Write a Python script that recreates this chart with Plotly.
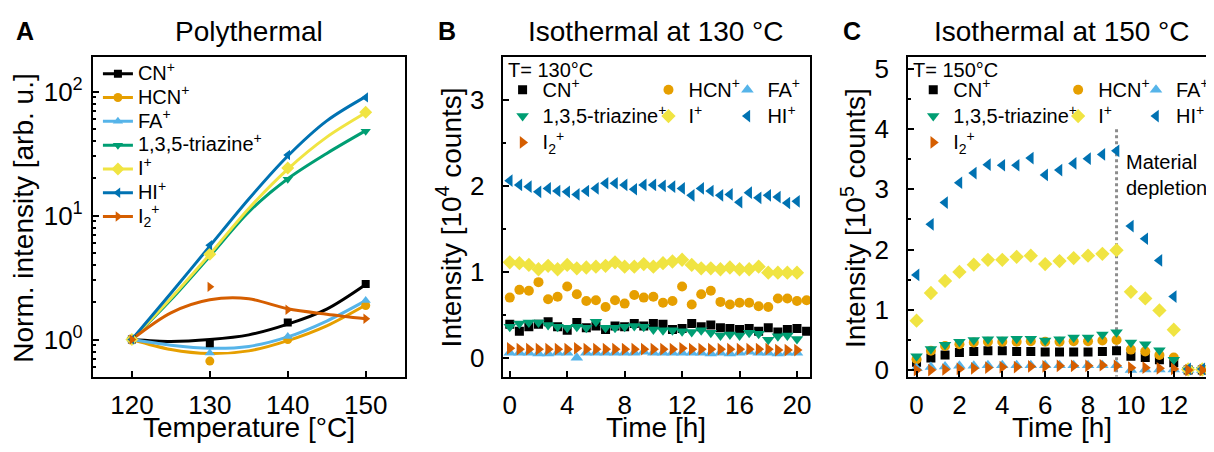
import plotly.graph_objects as go

# page offset of the plot inside the browser window (default body margin)
OFF = 8
W, H = 1214 - OFF, 452 - OFF
FONT = "Liberation Sans, Arial, Helvetica, sans-serif"

# ---------------- data ----------------
LABELS = ["CN<sup>+</sup>", "HCN<sup>+</sup>", "FA<sup>+</sup>", "1,3,5-triazine<sup>+</sup>",
          "I<sup>+</sup>", "HI<sup>+</sup>", "I<sub>2</sub><sup>+</sup>"]

# Panel A: polythermal, normalized intensity (markers)
TEMP_C = [120, 130, 140, 150]
A_CN = [1.0, 0.935, 1.37, 2.8]
A_HCN = [1.0, 0.67, 1.0, 1.88]
A_FA = [1.0, 0.78, 1.06, 2.06]
A_TRZ = [1.0, 4.8, 19.6, 47.8]
A_I = [1.0, 4.87, 24.2, 68.0]
A_HI = [1.0, 5.77, 30.8, 89.7]
A_I2 = [1.0, 2.66, 1.74, 1.47]

# Panel A: smoothed guide curves
FIT_TEMP = [120, 125, 130, 135, 140, 145, 150]
FIT_CN = [1.0, 0.965, 1.0, 1.09, 1.33, 1.76, 2.78]
FIT_HCN = [1.0, 0.83, 0.77, 0.81, 0.98, 1.29, 1.9]
FIT_FA = [1.0, 0.90, 0.85, 0.88, 1.05, 1.41, 2.06]
FIT_TRZ = [1.0, 2.09, 4.7, 10.7, 19.8, 31.7, 48.4]
FIT_I = [1.0, 2.15, 4.87, 11.4, 23.7, 42.9, 67.4]
FIT_HI = [1.0, 2.36, 5.67, 13.6, 30.2, 58.0, 91.0]
FIT_I2 = [1.0, 1.64, 2.09, 2.13, 1.77, 1.60, 1.47]

# Panel B: isothermal at 130 C, intensity in 1e4 counts
B_TIME = [0, 0.67, 1.33, 2.0, 2.67, 3.33, 4.0, 4.67, 5.33, 6.0, 6.67, 7.33, 8.0, 8.67,
          9.33, 10.0, 10.67, 11.33, 12.0, 12.67, 13.33, 14.0, 14.67, 15.33, 16.0, 16.67,
          17.33, 18.0, 18.67, 19.33, 20.0, 20.67]
B_CN = [0.39, 0.31, 0.36, 0.39, 0.42, 0.36, 0.32, 0.41, 0.35, 0.37, 0.33, 0.37, 0.36, 0.40,
        0.37, 0.40, 0.39, 0.33, 0.34, 0.40, 0.36, 0.38, 0.35, 0.34, 0.33, 0.34, 0.31, 0.35,
        0.30, 0.33, 0.34, 0.31]
B_HCN = [0.70, 0.79, 0.78, 0.88, 0.68, 0.71, 0.83, 0.74, 0.66, 0.67, 0.59, 0.67, 0.63, 0.73,
         0.70, 0.71, 0.64, 0.66, 0.83, 0.62, 0.74, 0.78, 0.65, 0.62, 0.64, 0.64, 0.60, 0.59,
         0.69, 0.69, 0.66, 0.67]
B_FA = [0.06, 0.06, 0.06, 0.05, 0.05, 0.06, 0.06, 0.00, 0.06, 0.06, 0.06, 0.06, 0.06, 0.06,
        0.07, 0.06, 0.06, 0.06, 0.06, 0.06, 0.06, 0.05, 0.06, 0.05, 0.06, 0.07, 0.06, 0.06,
        0.05, 0.06, 0.06]
B_TRZ = [0.36, 0.40, 0.41, 0.41, 0.38, 0.36, 0.35, 0.36, 0.35, 0.42, 0.35, 0.35, 0.36, 0.37,
         0.36, 0.33, 0.32, 0.32, 0.31, 0.30, 0.32, 0.29, 0.26, 0.27, 0.26, 0.29, 0.28, 0.21,
         0.25, 0.26, 0.22]
B_I = [1.11, 1.10, 1.08, 1.03, 1.07, 1.03, 1.08, 1.04, 1.05, 1.06, 1.07, 1.11, 1.06, 1.06,
       1.09, 1.06, 1.10, 1.12, 1.14, 1.08, 1.04, 1.04, 1.03, 1.05, 1.03, 1.03, 1.06, 0.99,
       0.99, 0.99, 0.99]
B_HI = [2.06, 2.01, 1.99, 1.93, 1.97, 1.94, 1.93, 1.90, 1.94, 1.97, 2.03, 2.03, 2.01, 1.96,
        2.01, 2.01, 2.00, 1.99, 1.97, 1.89, 1.97, 1.94, 1.89, 1.90, 1.81, 1.92, 1.86, 1.89,
        1.87, 1.80, 1.82]
B_I2 = [0.11, 0.10, 0.10, 0.10, 0.10, 0.10, 0.10, 0.11, 0.10, 0.10, 0.10, 0.10, 0.10, 0.10,
        0.10, 0.10, 0.10, 0.10, 0.11, 0.10, 0.10, 0.10, 0.10, 0.10, 0.10, 0.10, 0.10, 0.10,
        0.09, 0.09, 0.09]

# Panel C: isothermal at 150 C, intensity in 1e5 counts
C_TIME = [0, 0.67, 1.33, 2.0, 2.67, 3.33, 4.0, 4.67, 5.33, 6.0, 6.67, 7.33, 8.0, 8.67,
          9.33, 10.0, 10.67, 11.33, 12.0, 12.67, 13.33]
C_CN = [0.13, 0.20, 0.25, 0.29, 0.31, 0.32, 0.32, 0.31, 0.31, 0.30, 0.30, 0.30, 0.30, 0.31,
        0.32, 0.23, 0.21, 0.17, 0.12, 0.0, 0.0]
C_HCN = [0.18, 0.32, 0.40, 0.43, 0.46, 0.47, 0.47, 0.47, 0.48, 0.47, 0.47, 0.48, 0.48, 0.49,
         0.50, 0.34, 0.31, 0.25, 0.21, 0.0, 0.0]
C_FA = [0.03, 0.05, 0.06, 0.07, 0.07, 0.08, 0.08, 0.08, 0.08, 0.08, 0.08, 0.08, 0.08, 0.08,
        0.08, 0.0, 0.01, 0.01, 0.01, 0.0, 0.0]
C_TRZ = [0.23, 0.35, 0.42, 0.47, 0.50, 0.51, 0.51, 0.52, 0.52, 0.49, 0.51, 0.54, 0.54, 0.59,
         0.63, 0.46, 0.43, 0.33, 0.17, 0.0, 0.0]
C_I = [0.82, 1.28, 1.48, 1.63, 1.75, 1.83, 1.83, 1.88, 1.90, 1.76, 1.81, 1.86, 1.90, 1.93,
       1.99, 1.30, 1.19, 0.99, 0.67, 0.01, 0.01]
C_HI = [1.58, 2.42, 2.78, 3.11, 3.27, 3.41, 3.40, 3.40, 3.52, 3.24, 3.32, 3.43, 3.51, 3.58,
        3.64, 2.39, 2.18, 1.82, 1.22, 0.02, 0.02]
C_I2 = [0.0, 0.0, 0.01, 0.02, 0.03, 0.04, 0.05, 0.05, 0.06, 0.06, 0.07, 0.07, 0.07, 0.08,
        0.07, 0.04, 0.04, 0.03, 0.02, 0.0, 0.0]
DEPLETION_T = 9.33

A_SERIES = [A_CN, A_HCN, A_FA, A_TRZ, A_I, A_HI, A_I2]
FIT_SERIES = [FIT_CN, FIT_HCN, FIT_FA, FIT_TRZ, FIT_I, FIT_HI, FIT_I2]
B_SERIES = [B_CN, B_HCN, B_FA, B_TRZ, B_I, B_HI, B_I2]
C_SERIES = [C_CN, C_HCN, C_FA, C_TRZ, C_I, C_HI, C_I2]

# ---------------- styles ----------------
COLORS = ["#000000", "#E69F00", "#56B4E9", "#009E73", "#F0E442", "#0072B2", "#D55E00"]
SYMBOLS = ["square", "circle", "triangle-up", "triangle-down", "diamond",
           "triangle-left", "triangle-right"]
SIZES_A = [8, 9, 9, 9, 10, 9, 9]
SIZES_BC = [9, 10, 11, 11, 11, 11, 11]
B_COLS = ["legend2", "legend3", "legend4", "legend2", "legend3", "legend4", "legend2"]
C_COLS = ["legend5", "legend6", "legend7", "legend5", "legend6", "legend7", "legend5"]


def px(x):
    return (x - OFF) / W


def py(y):
    return 1 - (y - OFF) / H


def lab(t):
    return '<span style="font-size:20px">' + t + '</span>'


fig = go.Figure()

# Panel A
for k in range(7):
    fig.add_trace(go.Scatter(x=FIT_TEMP, y=FIT_SERIES[k], mode="lines",
                             line=dict(color=COLORS[k], width=3, shape="spline", smoothing=0.9),
                             xaxis="x", yaxis="y", showlegend=False, hoverinfo="skip"))
for k in range(7):
    fig.add_trace(go.Scatter(x=TEMP_C, y=A_SERIES[k], mode="markers",
                             marker=dict(symbol=SYMBOLS[k], size=SIZES_A[k], color=COLORS[k]),
                             xaxis="x", yaxis="y", showlegend=False))
for k in range(7):
    fig.add_trace(go.Scatter(x=[None], y=[None], mode="lines+markers", name=lab(LABELS[k]),
                             line=dict(color=COLORS[k], width=3),
                             marker=dict(symbol=SYMBOLS[k], size=SIZES_A[k], color=COLORS[k]),
                             xaxis="x", yaxis="y", legend="legend"))

# Panel B
for k in range(7):
    fig.add_trace(go.Scatter(x=B_TIME[:len(B_SERIES[k])], y=B_SERIES[k], mode="markers",
                             name=lab(LABELS[k]),
                             marker=dict(symbol=SYMBOLS[k], size=SIZES_BC[k], color=COLORS[k]),
                             xaxis="x2", yaxis="y2", legend=B_COLS[k]))

# Panel C
for k in range(7):
    fig.add_trace(go.Scatter(x=C_TIME, y=C_SERIES[k], mode="markers", name=lab(LABELS[k]),
                             marker=dict(symbol=SYMBOLS[k], size=SIZES_BC[k], color=COLORS[k]),
                             xaxis="x3", yaxis="y3", legend=C_COLS[k]))

YDOM = [py(383), py(55)]


def ax(**kw):
    d = dict(showline=True, linecolor="black", linewidth=2, mirror=True, ticks="inside",
             ticklen=6, tickwidth=2, tickcolor="black", showgrid=False, zeroline=False,
             tickfont=dict(size=26, color="black", family=FONT))
    d.update(kw)
    return d


MINOR_LOG = [0.5, 0.6, 0.7, 0.8, 0.9, 2, 3, 4, 5, 6, 7, 8, 9, 20, 30, 40, 50, 60, 70, 80, 90, 200]


def leg(x, y, size):
    return dict(x=px(x), y=py(y), xanchor="left", yanchor="top", bgcolor="rgba(0,0,0,0)",
                font=dict(size=size, family=FONT, color="black"), tracegroupgap=0,
                itemclick=False, itemdoubleclick=False)


fig.update_layout(
    width=W, height=H, margin=dict(l=0, r=0, t=0, b=0),
    paper_bgcolor="white", plot_bgcolor="white",
    font=dict(family=FONT, color="black"),
    xaxis=ax(domain=[px(93), px(405)], range=[115, 155], tickvals=[120, 130, 140, 150],
             anchor="y", ticklabelstandoff=4),
    yaxis=ax(domain=YDOM, type="log", range=[-0.30, 2.28], tickvals=[1, 10, 100],
             ticktext=["10<sup>0</sup>", "10<sup>1</sup>", "10<sup>2</sup>"],
             minor=dict(tickmode="array", tickvals=MINOR_LOG, ticks="inside", ticklen=3,
                        tickwidth=1.5, tickcolor="black"),
             anchor="x", ticklabelstandoff=3),
    xaxis2=ax(domain=[px(503), px(811)], range=[-0.5, 20.93], tickvals=[0, 4, 8, 12, 16, 20],
              anchor="y2", ticklabelstandoff=4),
    yaxis2=ax(domain=YDOM, range=[-0.22, 3.5], tickvals=[0, 1, 2, 3],
              minor=dict(dtick=0.5, tick0=0, ticks="inside", ticklen=3, tickwidth=1.5,
                         tickcolor="black"),
              anchor="x2", ticklabelstandoff=11),
    xaxis3=ax(domain=[px(909), 1.0], range=[-0.387, 13.83], tickvals=[0, 2, 4, 6, 8, 10, 12],
              anchor="y3", ticklabelstandoff=4),
    yaxis3=ax(domain=YDOM, range=[-0.11, 5.2], tickvals=[0, 1, 2, 3, 4, 5], mirror=False,
              minor=dict(dtick=0.5, tick0=0, ticks="inside", ticklen=3, tickwidth=1.5,
                         tickcolor="black"),
              anchor="x3", ticklabelstandoff=12),
    legend=leg(98, 55, 16),
    legend2=leg(503, 70, 18),
    legend3=leg(649, 70, 18),
    legend4=leg(728, 70, 18),
    legend5=leg(914, 70, 18),
    legend6=leg(1059, 70, 18),
    legend7=leg(1137, 70, 18),
)

# dotted marker of material depletion
fig.add_shape(type="line", xref="x3", yref="y3", x0=DEPLETION_T, x1=DEPLETION_T, y0=4.0,
              y1=-0.11, line=dict(color="#8c8c8c", width=3, dash="dot"), layer="below")

ann = []


def text(x, y, s, size, xanchor="center", **kw):
    d = dict(x=px(x), y=py(y), xref="paper", yref="paper", text=s, showarrow=False,
             xanchor=xanchor, yanchor="middle",
             font=dict(size=size, family=FONT, color="black"))
    d.update(kw)
    ann.append(d)


# panel letters and titles
text(25, 29, "<b>A</b>", 25)
text(447, 29, "<b>B</b>", 25)
text(853, 29, "<b>C</b>", 25)
text(249, 29, "Polythermal", 28)
text(657, 29, "Isothermal at 130 °C", 28)
text(1063, 29, "Isothermal at 150 °C", 28)
# axis titles
text(249, 435, "Temperature [°C]", 28)
text(657, 435, "Time [h]", 28)
text(1063, 435, "Time [h]", 28)
text(24, 220, "Norm. intensity [arb. u.]", 28, textangle=-90)
text(449, 220, "Intensity [10<sup>4</sup> counts]", 28, textangle=-90)
text(854, 220, "Intensity [10<sup>5</sup> counts]", 28, textangle=-90)
# inner labels
text(506, 68, "T= 130°C", 20, xanchor="left")
text(912, 68, "T= 150°C", 20, xanchor="left")
text(1125, 176, "Material<br>depletion", 20, xanchor="left", align="left")

fig.update_layout(annotations=ann)

fig.write_html("out.html")
